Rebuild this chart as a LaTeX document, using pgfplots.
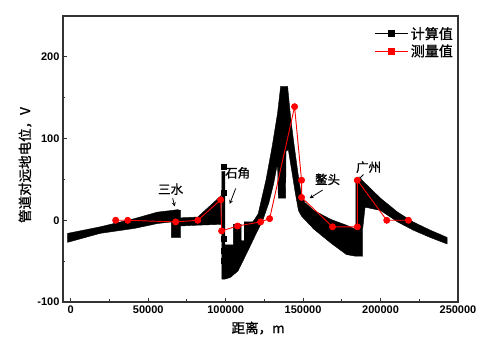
\documentclass[border=0pt]{standalone}
\usepackage{pgfplots}
\pgfplotsset{compat=1.18}
\usepackage{fontspec}
\setmainfont{Liberation Sans}
\newfontfamily\cjk[FakeBold=1]{Noto Sans CJK SC}
\begin{document}
\begin{tikzpicture}
\path[use as bounding box] (-63pt,-61pt) rectangle (437pt,302pt);
\begin{axis}[
  at={(0pt,0pt)}, anchor=south west,
  scale only axis, width=395pt, height=286pt,
  xmin=-5000, xmax=250000, ymin=-100, ymax=250,
  scaled ticks=false, scaled x ticks=false, scaled y ticks=false,
  xtick={0,50000,100000,150000,200000,250000},
  xticklabels={0,50000,100000,150000,200000,250000},
  ytick={-100,0,100,200},
  yticklabels={-100,0,100,200},
  minor x tick num=1, minor y tick num=1,
  tick align=inside, xtick pos=left, ytick pos=left,
  tick label style={font=\fontsize{11}{12}\selectfont\bfseries},
  axis line style={line width=1.2pt, black!80},
  major tick length=4pt, minor tick length=2.5pt,
  every tick/.style={black!80, line width=1pt},
  xlabel={\cjk 距离，m},
  ylabel={\cjk 管道对远地电位，V},
  xlabel style={at={(axis description cs:0.494,-0.091)}, anchor=center, font=\fontsize{13.5}{15}\selectfont},
  ylabel style={at={(axis description cs:-0.096,0.479)}, anchor=center, font=\fontsize{13.5}{15}\selectfont},
  legend style={at={(axis description cs:0.995,0.972)}, anchor=north east, draw=none, fill=none,
    font=\cjk\fontsize{14}{15}\selectfont, row sep=0pt, inner sep=1pt},
  legend cell align=left,
  legend image code/.code={\draw[mark repeat=2,mark phase=2,#1] plot coordinates {(0pt,0pt) (16.5pt,0pt) (33pt,0pt)};},
]
\addlegendimage{black, line width=1.2pt, mark=square*, mark size=2.8pt}
\addlegendentry{计算值}
\addlegendimage{red, line width=1.2pt, mark=square*, mark size=2.8pt}
\addlegendentry{测量值}

% calculated values (black band), region up to Shijiao
\addplot[draw=black, fill=black, line width=0.4pt, forget plot] coordinates {
(-2000,-16) (19000,-8) (41000,2) (56000,10) (65000,12) (69000,13) (71000,12)
(71000,3) (82000,4) (97000,30) (97000,-5) (82000,-6) (71000,-7) (71000,-21)
(65000,-21) (65000,-2) (56000,-4) (41000,-10) (19000,-16) (-2000,-27) (-2000,-16)};
% Shijiao spike, peak and descending branch to Guangzhou
\addplot[draw=black, fill=black, line width=0.4pt, forget plot] coordinates {
(97500,-72) (97500,60) (99500,60) (99500,-30) (105000,-30) (105000,-5) (110000,-5)
(110000,-25) (112000,-25) (112000,-2) (117500,-2) (119000,2) (121000,8) (126000,49)
(130000,90) (133500,131) (135500,164) (140000,164) (142000,125) (144000,95)
(146500,60) (148500,35) (151000,22) (157000,12) (168000,1) (178000,-6) (184000,-11)
(184000,-44) (178000,-42) (168000,-28) (157000,-11) (149000,5) (147000,12)
(145000,33) (140500,86) (139000,85) (138700,27) (134000,27) (133500,70)
(131000,45) (128000,22) (124000,0) (120000,-15) (115000,-35) (108000,-62)
(103000,-70) (99500,-72) (97500,-72)};
% Guangzhou branch
\addplot[draw=black, fill=black, line width=0.4pt, forget plot] coordinates {
(184000,-44) (184000,51) (187000,51) (193500,39) (200000,27) (211000,10) (221000,-2)
(232000,-12) (243000,-21) (243000,-29) (232000,-21) (221000,-12) (211000,-2)
(200000,12) (190000,16) (188500,-10) (188500,-44) (184000,-44)};
% markers on the Shijiao spike
\addplot[only marks, mark=square*, mark size=2.5pt, black, forget plot] coordinates {
(98500,65) (98500,34) (98500,-22) (98500,-37) (98500,-49)};

% measured values
\addplot[red, line width=0.9pt, mark=*, mark size=3pt, forget plot] coordinates {
(29000,0) (36800,0) (67700,-2) (82000,0) (96800,25) (97400,-13) (107700,-7)
(122600,-2) (128400,2) (144500,139) (149000,49) (149000,28) (169000,-8)
(185000,-8) (185000,49) (204000,0) (218000,0)};

% annotations
\node[font=\cjk\fontsize{12.5}{14}\selectfont] at (axis cs:64500,38) {三水};
\draw[-stealth, line width=0.8pt] (axis cs:65800,27) -- (axis cs:67100,17);
\node[font=\cjk\fontsize{12.5}{14}\selectfont] at (axis cs:107700,58) {石角};
\draw[-stealth, line width=0.8pt] (axis cs:106500,39) -- (axis cs:102600,20);
\node[font=\cjk\fontsize{12.5}{14}\selectfont] at (axis cs:165800,50) {鳌头};
\draw[-stealth, line width=0.8pt] (axis cs:162600,37) -- (axis cs:154200,27);
\node[font=\cjk\fontsize{12.5}{14}\selectfont] at (axis cs:192300,65) {广州};
\draw[-stealth, line width=0.8pt] (axis cs:189000,56) -- (axis cs:185200,49);
\end{axis}
\end{tikzpicture}
\end{document}
